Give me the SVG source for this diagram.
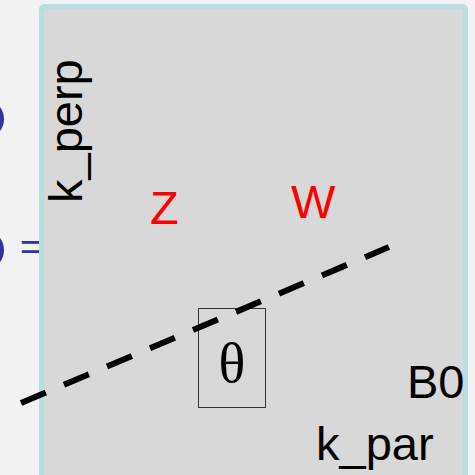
<svg xmlns="http://www.w3.org/2000/svg" width="475" height="475" viewBox="0 0 475 475">
<style>
.lbl{font-family:"Liberation Sans",Arial,sans-serif;font-size:47px;fill:#000}
.red{fill:#ff0000}
.blue{fill:#333399}
</style>
<rect x="0" y="0" width="475" height="475" fill="#f2f2f2"/>
<g id="left-marks">
<ellipse class="blue" cx="-12" cy="119" rx="16" ry="18"/>
<ellipse class="blue" cx="-12" cy="250" rx="16" ry="18"/>
<text class="blue" x="20" y="258.5" style="font-family:'Liberation Sans',Arial,sans-serif;font-size:37px">=</text>
</g>
<g id="panel">
<rect x="41.5" y="6.5" width="424" height="475" rx="3" fill="#d8d8d8" stroke="#b8dfe0" stroke-width="5"/>
</g>
<g id="k_perp"><text class="lbl" transform="translate(82,203) rotate(-90)">k_perp</text></g>
<g id="Z"><text class="lbl red" x="150" y="224">Z</text></g>
<g id="W"><text class="lbl red" x="291" y="218">W</text></g>
<g id="theta">
<rect x="198.5" y="308.5" width="67" height="99" fill="none" stroke="#333" stroke-width="1"/>
<text x="232" y="382" text-anchor="middle" style="font-family:'Liberation Serif','Times New Roman',serif;font-size:56px">θ</text>
</g>
<g id="B0"><text class="lbl" x="407" y="398">B0</text></g>
<g id="k_par"><text class="lbl" x="316" y="460">k_par</text></g>
<g id="connectors">
<line x1="21" y1="403" x2="389" y2="247" stroke="#000" stroke-width="6" stroke-dasharray="27 19.7"/>
</g>
</svg>
